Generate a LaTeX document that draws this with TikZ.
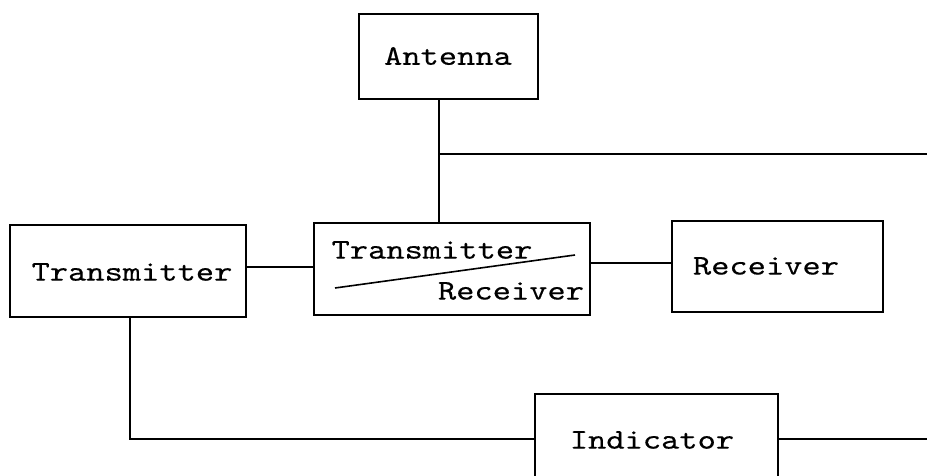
\documentclass[tikz,border=0pt]{standalone}
\usepackage{fontspec}
\setmonofont{lmmono10-regular.otf}[FakeStretch=1.22,FakeBold=0.3]
\begin{document}
\begin{tikzpicture}[x=1pt,y=-1pt,
  box/.style={draw,line width=1.8pt,inner sep=0pt},
  conn/.style={line width=1.6pt},
  lbl/.style={inner sep=0pt,font=\ttfamily\fontsize{28.5}{34}\selectfont}]
\clip (0,0) rectangle (927,476);
\fill[white] (0,0) rectangle (927,476);
% boxes
\node[box,minimum width=179pt,minimum height=85pt] (ant) at (448.5,56.5) {};
\node[lbl] (antT) at (448,56) {Antenna};
\node[box,minimum width=236pt,minimum height=92pt] (tx) at (128,271) {};
\node[lbl] (txT) at (132,272) {Transmitter};
\node[box,minimum width=276pt,minimum height=92pt] (tr) at (452,269) {};
\node[lbl] (trT) at (432,250) {Transmitter};
\node[lbl] (trR) at (511,291) {Receiver};
\node[box,minimum width=211pt,minimum height=91pt] (rx) at (777.5,266.5) {};
\node[lbl] (rxT) at (766,266) {Receiver};
\node[box,minimum width=243pt,minimum height=100pt] (ind) at (656.5,444) {};
\node[lbl] (indT) at (652,440) {Indicator};
% slash in transmitter/receiver
\coordinate (s1) at (335,288);
\coordinate (s2) at (575,255);
\draw[conn] (s1) -- (s2);
% connectors
\coordinate (j) at (439,154);
\coordinate (e1) at (927,154);
\coordinate (h1) at (0,267);
\coordinate (h2) at (0,263);
\coordinate (v1) at (130,0);
\coordinate (b) at (130,439);
\coordinate (e2) at (927,439);
\draw[conn] (ant.south -| j) -- (tr.north -| j);
\draw[conn] (j) -- (e1);
\draw[conn] (tx.east |- h1) -- (tr.west |- h1);
\draw[conn] (tr.east |- h2) -- (rx.west |- h2);
\draw[conn] (tx.south -| v1) -- (b) -- (ind.west |- b);
\draw[conn] (ind.east |- b) -- (e2);
\end{tikzpicture}
\end{document}
